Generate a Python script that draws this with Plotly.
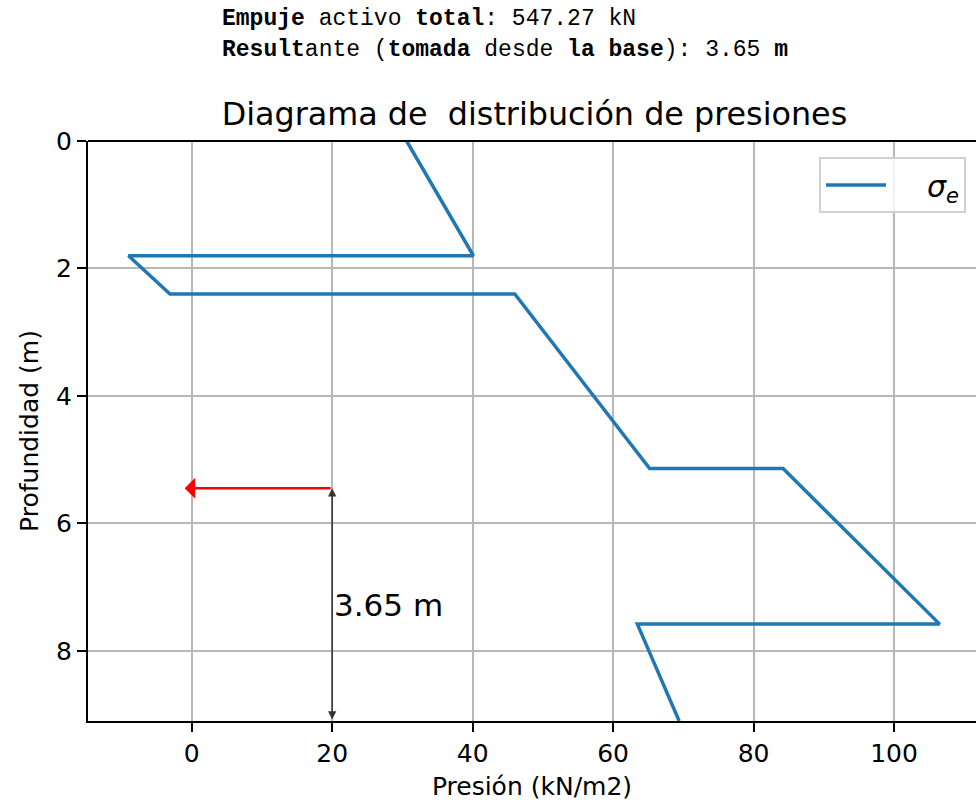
import plotly.graph_objects as go

# Data
presion = [30.6, 40.1, -9.0, -3.1, 46.0, 65.2, 84.2, 106.5, 63.45, 69.4]
profundidad = [0.0, 1.8, 1.8, 2.4, 2.4, 5.14, 5.14, 7.58, 7.58, 9.1]
H = 9.1
resultante = 3.65
empuje = 547.27
x_arrow_start = 20
x_arrow_tip = -1.0

x_ticks = [0, 20, 40, 60, 80, 100]
y_ticks = [0, 2, 4, 6, 8]

L, T, B = 88, 141, 82
W, HT = 976, 803
plot_h = HT - T - B
plot_w = W - L

def px_x(p):
    return (p - L) / plot_w

def px_y(p):
    return (HT - B - p) / plot_h

fig = go.Figure()
fig.add_trace(go.Scatter(
    x=presion, y=profundidad, mode="lines",
    line=dict(color="#1f77b4", width=3.5),
    name="\u2003\u2009<i>σ<sub>e</sub></i>",
))

font_main = "DejaVu Sans, sans-serif"

# Red resultant arrow
y_res = H - resultante
fig.add_annotation(
    x=x_arrow_tip, y=y_res, ax=x_arrow_start, ay=y_res,
    xref="x", yref="y", axref="x", ayref="y",
    text="", showarrow=True, arrowhead=1, arrowsize=1.4,
    arrowwidth=2.5, arrowcolor="#ff0000", standoff=0,
)
# Black dimension arrow
fig.add_annotation(
    x=x_arrow_start, y=y_res, ax=x_arrow_start, ay=H,
    xref="x", yref="y", axref="x", ayref="y",
    text="", showarrow=True, arrowhead=2, arrowside="end+start",
    arrowsize=1.1, arrowwidth=1.5, arrowcolor="#333333",
    standoff=0, startstandoff=0,
)
fig.add_annotation(
    x=x_arrow_start, y=(y_res + H) / 2, xref="x", yref="y",
    text=f"{resultante:.2f} m", showarrow=False,
    xanchor="left", yanchor="middle", xshift=0,
    font=dict(family=font_main, size=31, color="black"),
)

# Header texts
mono = "Liberation Mono, DejaVu Sans Mono, monospace"
fig.add_annotation(
    x=px_x(220), y=px_y(19), xref="paper", yref="paper",
    text=f"<b>Empuje</b> activo <b>total</b>: {empuje:.2f} kN",
    showarrow=False, xanchor="left", yanchor="middle",
    font=dict(family=mono, size=23, color="black"),
)
fig.add_annotation(
    x=px_x(220), y=px_y(50), xref="paper", yref="paper",
    text=f"<b>Result</b>ante (<b>tomada</b> desde <b>la base</b>): {resultante:.2f} <b>m</b>",
    showarrow=False, xanchor="left", yanchor="middle",
    font=dict(family=mono, size=23, color="black"),
)

# Top spine
fig.add_shape(type="line", xref="paper", yref="paper",
              x0=0, x1=1, y0=1, y1=1, line=dict(color="black", width=2))

fig.update_layout(
    width=W, height=HT,
    margin=dict(l=L, r=0, t=T, b=B),
    paper_bgcolor="white", plot_bgcolor="white",
    font=dict(family=font_main, size=25, color="black"),
    title=dict(
        text="Diagrama de\u00a0\u00a0distribución de presiones",
        x=px_x(534.5), xref="paper", xanchor="center",
        y=1 - 114 / HT, yref="container", yanchor="middle",
        font=dict(family=font_main, size=31.8, color="black"),
    ),
    showlegend=True,
    legend=dict(
        x=px_x(966), y=px_y(157), xanchor="right", yanchor="top",
        bgcolor="rgba(255,255,255,0.8)", bordercolor="#d0d0d0", borderwidth=2,
        font=dict(family=font_main, size=30, color="black"),
        itemwidth=60,
    ),
    xaxis=dict(
        range=[-14.77, 111.67], tickvals=x_ticks,
        showgrid=True, gridcolor="#b8b8b8", gridwidth=1.5,
        zeroline=False, showline=True, linecolor="black", linewidth=2,
        ticks="outside", ticklen=9, tickwidth=2, tickcolor="black",
        tickfont=dict(size=25),
        title=dict(text="Presión (kN/m2)", font=dict(size=25), standoff=10),
    ),
    yaxis=dict(
        range=[H, 0], tickvals=y_ticks,
        showgrid=True, gridcolor="#b8b8b8", gridwidth=1.5,
        zeroline=False, showline=True, linecolor="black", linewidth=2,
        ticks="outside", ticklen=9, tickwidth=2, tickcolor="black",
        tickfont=dict(size=25),
        title=dict(text="Profundidad (m)", font=dict(size=25), standoff=10),
    ),
)

fig.write_html("out.html")
